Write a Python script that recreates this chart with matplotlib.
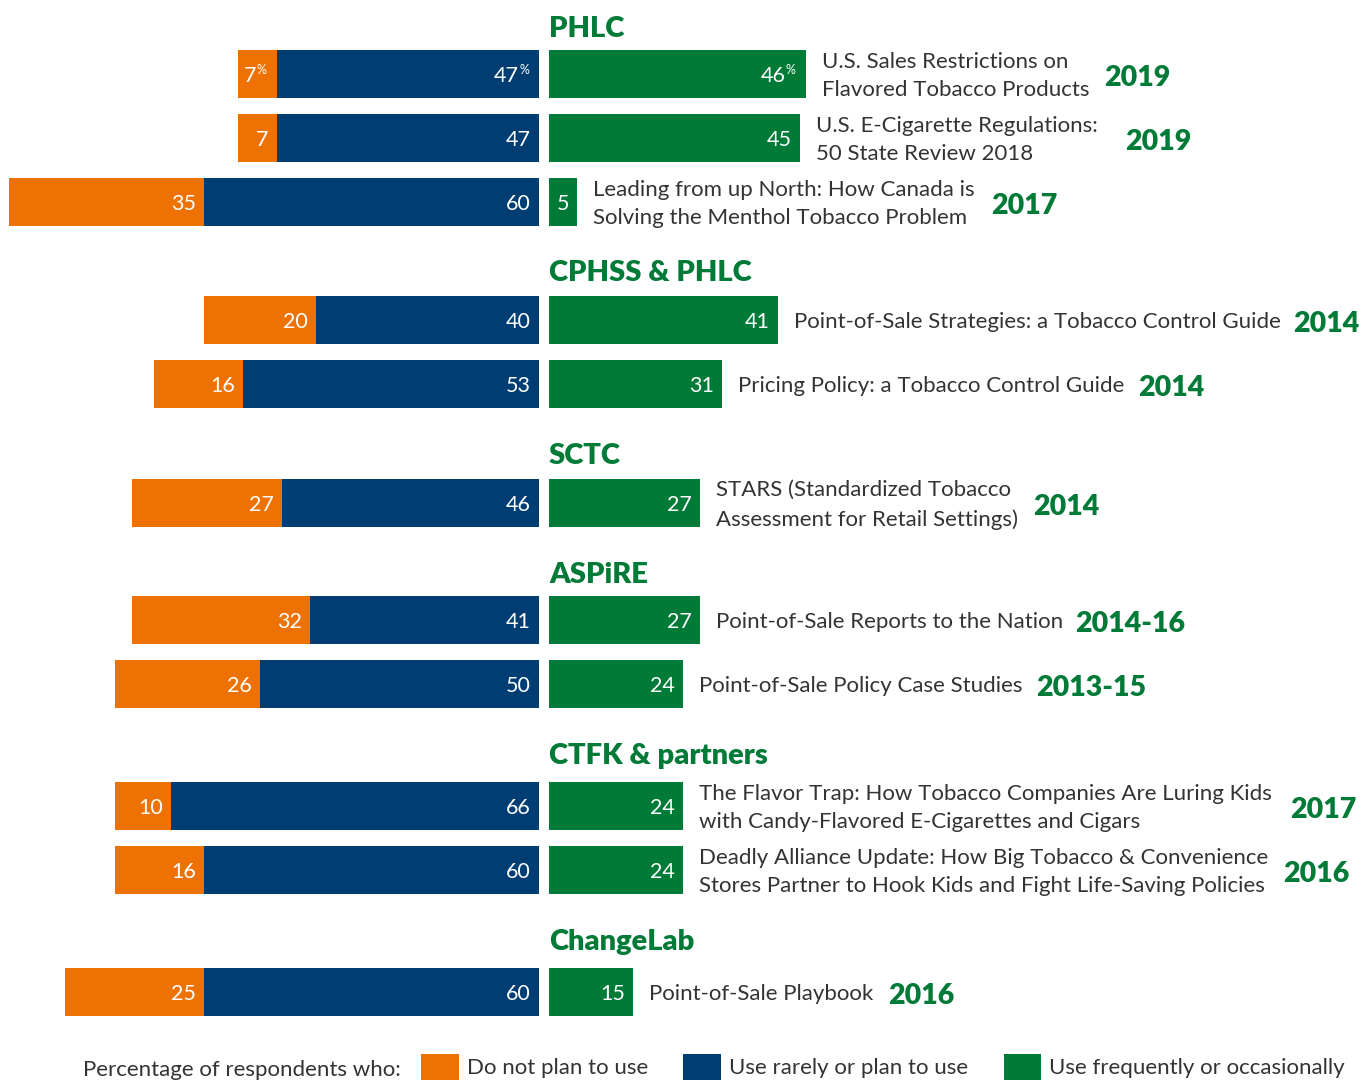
import matplotlib

matplotlib.use("Agg")
import matplotlib.pyplot as plt
from matplotlib.patches import Patch
from matplotlib.transforms import offset_copy

# --- data -----------------------------------------------------------------
groups = ["PHLC", "CPHSS & PHLC", "SCTC", "ASPiRE", "CTFK & partners", "ChangeLab"]
row_group = [0, 0, 0, 1, 1, 2, 3, 3, 4, 4, 5]
titles = [
    "U.S. Sales Restrictions on\nFlavored Tobacco Products",
    "U.S. E-Cigarette Regulations:\n50 State Review 2018",
    "Leading from up North: How Canada is\nSolving the Menthol Tobacco Problem",
    "Point-of-Sale Strategies: a Tobacco Control Guide",
    "Pricing Policy: a Tobacco Control Guide",
    "STARS (Standardized Tobacco\nAssessment for Retail Settings)",
    "Point-of-Sale Reports to the Nation",
    "Point-of-Sale Policy Case Studies",
    "The Flavor Trap: How Tobacco Companies Are Luring Kids\nwith Candy-Flavored E-Cigarettes and Cigars",
    "Deadly Alliance Update: How Big Tobacco & Convenience\nStores Partner to Hook Kids and Fight Life-Saving Policies",
    "Point-of-Sale Playbook",
]
years = ["2019", "2019", "2017", "2014", "2014", "2014", "2014-16", "2013-15", "2017", "2016", "2016"]
no_plan = [7, 7, 35, 20, 16, 27, 32, 26, 10, 16, 25]
rarely = [47, 47, 60, 40, 53, 46, 41, 50, 66, 60, 60]
frequent = [46, 45, 5, 41, 31, 27, 27, 24, 24, 24, 15]
legend_labels = ["Do not plan to use", "Use rarely or plan to use", "Use frequently or occasionally"]
legend_intro = "Percentage of respondents who:"

# --- layout (pixels) ------------------------------------------------------
W, H = 1362, 1082
PX = 5.58            # pixels per percentage point
X0 = 539             # pixel where left bars end
GAP = 10 / PX        # gap before green bars
row_y = [74, 138, 202, 320, 384, 503, 620, 684, 806, 870, 992]
group_y = [29, 273, 456, 575, 756, 942]
year_px = [1104, 1125, 991, 1293, 1138, 1033, 1075, 1036, 1290, 1283, 888]
BAR_H = 48

ORANGE = "#EE7203"
BLUE = "#003D73"
GREEN = "#007A37"
TEXT = "#333333"

plt.rcParams["font.family"] = ["Lato", "DejaVu Sans"]

fig = plt.figure(figsize=(W / 100, H / 100), dpi=100)
ax = fig.add_axes([0, 0, 1, 1])
ax.set_xlim(-X0 / PX, (W - X0) / PX)
ax.set_ylim(H, 0)
ax.axis("off")


def px_to_x(p):
    return (p - X0) / PX


def value_label(x_end, y, val, pct):
    # right-aligned number inside bar end, optional small superscript %
    if pct:
        tr = offset_copy(ax.transData, fig=fig, x=-20, y=-2, units="dots")
        ax.text(x_end, y, str(val), transform=tr, ha="right", va="center",
                color="white", fontsize=15.5)
        tr2 = offset_copy(ax.transData, fig=fig, x=-20, y=4, units="dots")
        ax.text(x_end, y, "%", transform=tr2, ha="left", va="center",
                color="white", fontsize=9)
    else:
        tr = offset_copy(ax.transData, fig=fig, x=-8, y=-2, units="dots")
        ax.text(x_end, y, str(val), transform=tr, ha="right", va="center",
                color="white", fontsize=15.5)


for i, y in enumerate(row_y):
    b, o, g = rarely[i], no_plan[i], frequent[i]
    ax.barh(y, -b, height=BAR_H, left=0, color=BLUE)
    ax.barh(y, -o, height=BAR_H, left=-b, color=ORANGE)
    ax.barh(y, g, height=BAR_H, left=GAP, color=GREEN)
    first = i == 0
    value_label(-b, y, o, first)
    value_label(0, y, b, first)
    value_label(GAP + g, y, g, first)
    tr = offset_copy(ax.transData, fig=fig, x=16, y=0, units="dots")
    ax.text(GAP + g, y + 2, titles[i], transform=tr, ha="left", va="center",
            color=TEXT, fontsize=16, linespacing=1.55)
    ax.text(px_to_x(year_px[i]), y + 4, years[i], ha="left", va="center",
            color=GREEN, fontsize=20.5, fontweight="heavy")

for name, gy in zip(groups, group_y):
    ax.text(GAP, gy, name, ha="left", va="center", color=GREEN,
            fontsize=21, fontweight="heavy")

# legend
fig.text(83 / W, 1 - 1070 / H, legend_intro, ha="left", va="center",
         color=TEXT, fontsize=16)
handles = [Patch(facecolor=c, edgecolor="none") for c in (ORANGE, BLUE, GREEN)]
leg = fig.legend(handles, legend_labels, loc="center left",
                 bbox_to_anchor=(421 / W, 1 - 1067 / H), ncol=3, frameon=False,
                 fontsize=16, handlelength=1.7, handleheight=1.45,
                 handletextpad=0.35, columnspacing=1.6, borderpad=0,
                 borderaxespad=0)
for t in leg.get_texts():
    t.set_color(TEXT)

fig.savefig("out.png", dpi=100)
